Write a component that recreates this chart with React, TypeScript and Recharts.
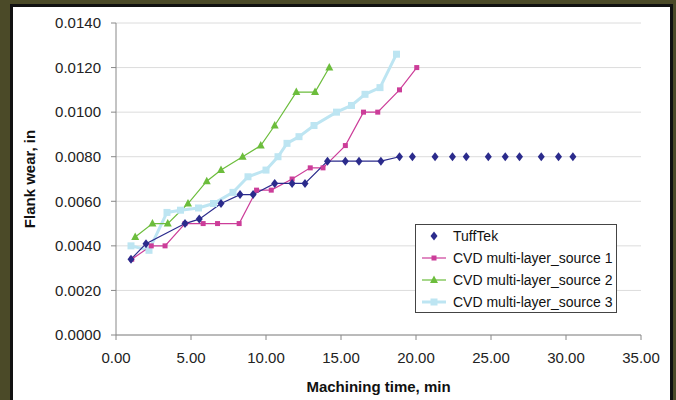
import React from 'react';
import { LineChart, Line, XAxis, YAxis, CartesianGrid, Legend } from 'recharts';

// machining time (min) / flank wear (in) per tool
const tuffTekTime = [1.0, 2.0, 4.6, 5.55, 7.0, 8.27, 9.14, 10.58, 11.74, 12.6, 14.1, 15.29, 16.2, 17.66, 18.9,
    19.76, 21.27, 22.43, 23.35, 24.82, 25.95, 26.9, 28.35, 29.5, 30.46];
const tuffTekWear = [0.0034, 0.0041, 0.0050, 0.0052, 0.0059, 0.0063, 0.0063, 0.0068, 0.0068, 0.0068, 0.0078, 0.0078, 0.0078, 0.0078, 0.0080,
    0.0080, 0.0080, 0.0080, 0.0080, 0.0080, 0.0080, 0.0080, 0.0080, 0.0080, 0.0080];
// only the first points of TuffTek are joined by a line
const tuffTekJoined = 15;

const source1Time = [1.05, 2.35, 3.27, 4.6, 5.81, 6.77, 8.21, 9.37, 10.35, 11.74, 12.95, 13.8, 15.29, 16.5, 17.45, 18.9, 20.05];
const source1Wear = [0.0034, 0.0040, 0.0040, 0.0050, 0.0050, 0.0050, 0.0050, 0.0065, 0.0065, 0.0070, 0.0075, 0.0075, 0.0085, 0.0100, 0.0100, 0.0110, 0.0120];

const source2Time = [1.28, 2.43, 3.45, 4.8, 6.05, 7.0, 8.44, 9.65, 10.58, 12.02, 13.27, 14.22];
const source2Wear = [0.0044, 0.0050, 0.0050, 0.0059, 0.0069, 0.0074, 0.0080, 0.0085, 0.0094, 0.0109, 0.0109, 0.0120];

const source3Time = [1.0, 2.2, 3.4, 4.3, 5.5, 6.5, 7.8, 8.8, 10.0, 10.8, 11.4, 12.2, 13.2, 14.7, 15.7, 16.6, 17.6, 18.7];
const source3Wear = [0.0040, 0.0038, 0.0055, 0.0056, 0.0057, 0.0059, 0.0064, 0.0071, 0.0074, 0.0080, 0.0086, 0.0089, 0.0094, 0.0100, 0.0103, 0.0108, 0.0111, 0.0126];

const xTicks = [0, 5, 10, 15, 20, 25, 30, 35];
const yTicks = [0, 0.002, 0.004, 0.006, 0.008, 0.010, 0.012, 0.014];

const seriesNames = ['TuffTek', 'CVD multi-layer_source 1', 'CVD multi-layer_source 2', 'CVD multi-layer_source 3'];

const toPoints = (t: number[], w: number[]) => t.map((x, i) => ({ x, y: w[i] }));

const tuffTekPoints = toPoints(tuffTekTime, tuffTekWear);
const tuffTekLine = tuffTekPoints.slice(0, tuffTekJoined);
const tuffTekDots = tuffTekPoints.slice(tuffTekJoined);
const source1Points = toPoints(source1Time, source1Wear);
const source2Points = toPoints(source2Time, source2Wear);
const source3Points = toPoints(source3Time, source3Wear);

const NAVY = '#2b2b8c';
const PINK = '#cc3d99';
const GREEN = '#6cbd3c';
const CYAN = '#bde5f2';
const FONT = '"Liberation Sans", Arial, sans-serif';

const Diamond = ({ cx, cy }: any) =>
    cx == null ? null : <path d={`M${cx},${cy - 4.5}L${cx + 3.5},${cy}L${cx},${cy + 4.5}L${cx - 3.5},${cy}Z`} fill={NAVY} />;
const PinkSquare = ({ cx, cy }: any) =>
    cx == null ? null : <rect x={cx - 2.5} y={cy - 2.5} width={5} height={5} fill={PINK} />;
const Triangle = ({ cx, cy }: any) =>
    cx == null ? null : <path d={`M${cx},${cy - 4.5}L${cx + 4},${cy + 3}L${cx - 4},${cy + 3}Z`} fill={GREEN} />;
const CyanSquare = ({ cx, cy }: any) =>
    cx == null ? null : <rect x={cx - 3.5} y={cy - 3.5} width={7} height={7} fill={CYAN} />;

const legendSamples = [
    { line: null, Marker: Diamond },
    { line: PINK, Marker: PinkSquare },
    { line: GREEN, Marker: Triangle },
    { line: CYAN, Marker: CyanSquare },
];

const WearLegend = () => (
    <div style={{ border: '1px solid #444', background: '#fff', width: 202, height: 89, boxSizing: 'border-box', fontFamily: FONT }}>
        {seriesNames.map((name, i) => {
            const { line, Marker } = legendSamples[i];
            return (
                <div key={name} style={{ height: 22, display: 'flex', alignItems: 'center' }}>
                    <svg width={34} height={14} style={{ marginLeft: 3 }}>
                        {line && <line x1={3} y1={7} x2={27} y2={7} stroke={line} strokeWidth={line === CYAN ? 3 : 1.2} />}
                        <Marker cx={15} cy={7} />
                    </svg>
                    <span style={{ fontSize: 14, color: '#111' }}>{name}</span>
                </div>
            );
        })}
    </div>
);

export default function App() {
    return (
        <div style={{ position: 'fixed', left: 0, top: 0, width: 676, height: 400, background: '#4b4a28', overflow: 'hidden' }}>
            <div style={{ position: 'absolute', left: 10, top: 4, width: 663, height: 410, border: '3px solid #111', background: '#fff', boxSizing: 'border-box' }} />
            <div style={{ position: 'absolute', left: 0, top: 0 }}>
                <LineChart width={676} height={400} margin={{ top: 23, right: 35, left: 0, bottom: 0 }} style={{ fontFamily: FONT }}>
                    <CartesianGrid vertical={false} stroke="#dcdcdc" />
                    <XAxis
                        dataKey="x"
                        type="number"
                        domain={[0, 35]}
                        ticks={xTicks}
                        tickFormatter={(v: number) => v.toFixed(2)}
                        height={65}
                        stroke="#888"
                        tickSize={5}
                        tickMargin={12}
                        tick={{ fill: '#222', fontSize: 15 }}
                        label={{ value: 'Machining time, min', position: 'insideBottom', offset: 8, style: { fontWeight: 'bold', fontSize: 15, fill: '#111' } }}
                    />
                    <YAxis
                        type="number"
                        domain={[0, 0.014]}
                        ticks={yTicks}
                        tickFormatter={(v: number) => v.toFixed(4)}
                        width={116}
                        stroke="#888"
                        tickSize={5}
                        tickMargin={10}
                        tick={{ fill: '#222', fontSize: 15 }}
                        label={{ value: 'Flank wear, in', angle: -90, position: 'insideLeft', offset: 30, style: { textAnchor: 'middle', fontWeight: 'bold', fontSize: 15, fill: '#111' } }}
                    />
                    <Legend
                        layout="vertical"
                        align="center"
                        verticalAlign="middle"
                        content={() => <WearLegend />}
                        wrapperStyle={{ position: 'absolute', left: 415, top: 224, width: 202, height: 89 }}
                    />
                    <Line data={source3Points} dataKey="y" name={seriesNames[3]} stroke={CYAN} strokeWidth={3} dot={<CyanSquare />} activeDot={false} isAnimationActive={false} />
                    <Line data={source2Points} dataKey="y" name={seriesNames[2]} stroke={GREEN} strokeWidth={1.2} dot={<Triangle />} activeDot={false} isAnimationActive={false} />
                    <Line data={source1Points} dataKey="y" name={seriesNames[1]} stroke={PINK} strokeWidth={1.2} dot={<PinkSquare />} activeDot={false} isAnimationActive={false} />
                    <Line data={tuffTekLine} dataKey="y" name={seriesNames[0]} stroke={NAVY} strokeWidth={1.2} dot={<Diamond />} activeDot={false} isAnimationActive={false} />
                    <Line data={tuffTekDots} dataKey="y" name={seriesNames[0] + ' '} stroke="none" dot={<Diamond />} activeDot={false} legendType="none" isAnimationActive={false} />
                </LineChart>
            </div>
        </div>
    );
}
